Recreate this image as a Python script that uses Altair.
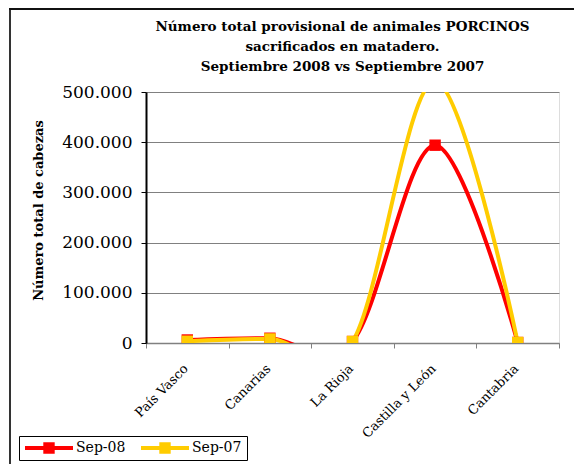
import altair as alt
import pandas as pd

categorias = ["País Vasco", "Canarias", "La Rioja", "Castilla y León", "Cantabria"]
sep_08 = [6000, 9500, 3000, 394000, 1000]
sep_07 = [3500, 8000, 3000, 522000, 1000]
series = ["Sep-08", "Sep-07"]
colores = ["#FF0000", "#FFCC00"]

rows = []
for s, vals in zip(series, [sep_08, sep_07]):
    for c, v in zip(categorias, vals):
        rows.append({"Comunidad": c, "Serie": s, "Cabezas": v})
df = pd.DataFrame(rows)

FONT = "DejaVu Serif"
legend_path = "M-4,-0.34H4V0.34H-4Z M-0.95,-0.95H0.95V0.95H-0.95Z"

x = alt.X("Comunidad:N", sort=categorias,
          scale=alt.Scale(type="band", paddingInner=0, paddingOuter=0),
          axis=alt.Axis(title=None, labelAngle=-45, labelFont=FONT, labelFontSize=13,
                        labelColor="black", labelPadding=14, labelOffset=-6, tickBand="extent",
                        tickColor="#808080", tickSize=5, domainColor="#808080",
                        domainWidth=1.5, grid=False))
y = alt.Y("Cabezas:Q", scale=alt.Scale(domain=[0, 500000], nice=False),
          axis=alt.Axis(title="Número total de cabezas", values=[0, 100000, 200000, 300000, 400000, 500000],
                        labelExpr="replace(format(datum.value, ',d'), /,/g, '.')",
                        labelFont=FONT, labelFontSize=17, labelColor="black", labelPadding=9,
                        tickColor="black", tickSize=5, domainColor="black", domainWidth=2,
                        grid=True, gridColor="#808080", gridWidth=1.2,
                        titleFont=FONT, titleFontSize=13, titleFontWeight="bold",
                        titleColor="black", titleAngle=270, titleX=-108, titleY=118,
                        titleAlign="center", titleBaseline="middle"))

legend = alt.Legend(title=None, orient="none", legendX=-127, legendY=344,
                    direction="horizontal", symbolType=legend_path,
                    symbolSize=144, symbolStrokeWidth=0, symbolOffset=18,
                    labelOffset=20, columnPadding=14,
                    labelFont=FONT, labelFontSize=14, labelColor="black",
                    strokeColor="black", padding=5, fillColor="white",
                    symbolOpacity=1)
color = alt.Color("Serie:N", sort=series,
                  scale=alt.Scale(domain=series, range=colores), legend=legend)

lines = alt.Chart(df).mark_line(interpolate="cardinal", strokeWidth=4, clip=True).encode(
    x=x, y=y, color=color,
)
points = alt.Chart(df).mark_point(shape="square", filled=True, size=130, opacity=1, clip=True).encode(
    x=x, y=y, color=color,
)

frame = alt.Data(values=[{}])
left_border = alt.Chart(frame).mark_rule(color="#333333", strokeWidth=2).encode(
    x=alt.value(-136), y=alt.value(-84), y2=alt.value(380))
top_border = alt.Chart(frame).mark_rule(color="#111111", strokeWidth=2).encode(
    x=alt.value(-137), x2=alt.value(440), y=alt.value(-83))

chart = alt.layer(lines, points, left_border, top_border).properties(
    width=413, height=251,
    title=alt.Title(["Número total provisional de animales PORCINOS",
                     "sacrificados en matadero.",
                     "Septiembre 2008 vs Septiembre 2007"],
                    font=FONT, fontSize=13.5, fontWeight="bold", color="black",
                    lineHeight=20, anchor="middle", frame="group", dx=-10, offset=0, dy=66),
    autosize=alt.AutoSizeParams(type="none"),
    padding={"left": 138, "top": 84, "right": 15, "bottom": 121},
).configure_view(stroke=None).configure_legend(
    labelFont=FONT, labelFontSize=14, labelColor="black"
).configure(background="white")

chart.save("out.html", embed_options={"renderer": "svg", "actions": False})
